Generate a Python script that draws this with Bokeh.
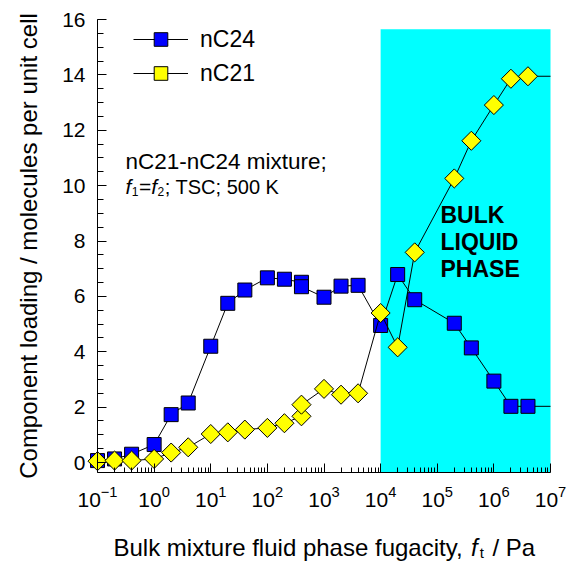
import numpy as np
from bokeh.plotting import figure
from bokeh.models import (Range1d, FixedTicker, SingleIntervalTicker, Label,
                          Legend, LegendItem)
from bokeh.embed import file_html
from bokeh.resources import INLINE

# Component loadings (molecules per unit cell) in the nC21-nC24 mixture
fug_c24 = [0.1, 0.2, 0.4, 1, 2, 4, 10, 20, 40, 100, 200, 400, 400, 1e3, 2e3, 4e3,
           1e4, 2e4, 4e4, 2e5, 4e5, 1e6, 2e6, 4e6]
load_c24 = [0.07, 0.13, 0.30, 0.65, 1.73, 2.15, 4.20, 5.75, 6.23, 6.67, 6.62, 6.51, 6.35,
            5.97, 6.37, 6.40, 4.95, 6.79, 5.88, 5.03, 4.14, 2.94, 2.03, 2.03]
fug_c21 = [0.1, 0.2, 0.4, 1, 2, 4, 10, 20, 40, 100, 200, 400, 400, 1e3, 2e3, 4e3,
           1e4, 2e4, 4e4, 2e5, 4e5, 1e6, 2e6, 4e6]
load_c21 = [0.05, 0.07, 0.07, 0.13, 0.36, 0.55, 1.03, 1.09, 1.19, 1.25, 1.42, 1.67, 2.09,
            2.66, 2.45, 2.50, 5.40, 4.16, 7.59, 10.26, 11.62, 12.91, 13.86, 13.95]

# Fugacity span of the bulk liquid phase
liquid_fug = [1e4, 1e7]
liquid_top = 15.65

# axis extents
x_min, x_max = 0.1, 1e7
y_min, y_max = -0.36, 16
x_decades = list(range(-1, 8))

FONT = "Liberation Sans"

# Arial / Liberation Sans advance widths (per 1000 em) for laying out mixed-style text
ADV = {' ': 278, '/': 278, ',': 278, ';': 278, '=': 584, '-': 333,
       'B': 667, 'C': 722, 'K': 667, 'P': 667, 'S': 667, 'T': 611,
       'a': 556, 'c': 500, 'd': 556, 'e': 556, 'f': 278, 'g': 556, 'h': 556,
       'i': 222, 'k': 500, 'l': 222, 'm': 833, 'n': 556, 'o': 556, 'p': 556,
       'r': 333, 's': 500, 't': 278, 'u': 556, 'x': 500, 'y': 500}
for d in "0123456789":
    ADV[d] = 556


def text_width(s, size):
    return sum(ADV.get(ch, 556) for ch in s) * size / 1000.0


# Canvas geometry: the axes box spans 97..550 px horizontally and 19..472 px vertically.
W, H = 571, 563
box_l, box_r, box_t, box_b = 97, 550, 19, 472
px_per_dec = (box_r - box_l) / (np.log10(x_max) - np.log10(x_min))
px_per_unit = (box_b - box_t) / (y_max - y_min)
view_x = (10 ** (np.log10(x_min) - box_l / px_per_dec),
          10 ** (np.log10(x_max) + (W - box_r) / px_per_dec))
view_y = (y_min - (H - box_b) / px_per_unit, y_max + box_t / px_per_unit)

p = figure(width=W, height=H, x_axis_type="log",
           x_range=Range1d(*view_x), y_range=Range1d(*view_y),
           output_backend="svg", toolbar_location=None, min_border=0)
p.outline_line_color = None
p.grid.visible = False
p.background_fill_color = "white"
p.border_fill_color = "white"

# bulk liquid region
p.quad(left=[liquid_fug[0]], right=[liquid_fug[1]], bottom=[y_min], top=[liquid_top],
       fill_color="#00FFFF", line_color=None)

# connecting lines run on to the right end of the axis
l24 = p.line(fug_c24 + [x_max], load_c24 + [load_c24[-1]], line_color="black", line_width=1)
m24 = p.scatter(fug_c24, load_c24, marker="square", size=14,
                fill_color="#0000FF", line_color="black", line_width=1)
l21 = p.line(fug_c21 + [x_max], load_c21 + [load_c21[-1]], line_color="black", line_width=1)
m21 = p.scatter(fug_c21, load_c21, marker="square", angle=np.pi / 4, size=13.5,
                fill_color="#FFFF00", line_color="black", line_width=1)

# axes, pinned to the axes box
xa = p.xaxis[0]
xa.fixed_location = y_min
xa.bounds = (x_min, x_max)
xa.ticker = FixedTicker(ticks=[10.0 ** k for k in x_decades],
                        minor_ticks=[m * 10.0 ** k for k in x_decades[:-1] for m in range(2, 10)])
ya = p.yaxis[0]
ya.fixed_location = x_min
ya.bounds = (y_min, y_max)
ya.ticker = SingleIntervalTicker(interval=2, num_minor_ticks=4)
for ax in (xa, ya):
    ax.axis_line_color = "black"
    ax.major_tick_line_color = "black"
    ax.minor_tick_line_color = "black"
    ax.major_tick_in = 9
    ax.major_tick_out = 0
    ax.minor_tick_out = 0
    ax.major_label_text_font = FONT
    ax.major_label_text_font_size = "21px"
    ax.major_label_text_color = "black"
xa.minor_tick_in = 5
ya.minor_tick_in = 6
xa.major_label_standoff = 13
ya.major_label_standoff = 12

ya.axis_label = "Component loading / molecules per unit cell"
ya.axis_label_text_font = FONT
ya.axis_label_text_font_size = "24px"
ya.axis_label_text_font_style = "normal"
ya.axis_label_text_color = "black"
ya.axis_label_standoff = 17


def add_runs(runs, x0, line_y):
    """Place a row of differently styled text pieces; x0 and line_y in canvas pixels."""
    x = x0
    for txt, size, style, drop, gap in runs:
        p.add_layout(Label(x=x, y=H - line_y - drop, x_units="screen", y_units="screen",
                           text=txt, text_font=FONT, text_font_size=f"{size}px",
                           text_font_style=style, text_color="black",
                           text_baseline="alphabetic", text_align="left", level="overlay"))
        x += text_width(txt, size) + gap


# x-axis title with italic f and subscript t
add_runs([("Bulk mixture fluid phase fugacity,", 24, "normal", 0, text_width(" ", 24)),
          ("f", 24, "italic", 0, 2),
          ("t", 15, "normal", 5, 2 + text_width(" ", 24)),
          ("/ Pa", 24, "normal", 0, 0)], 113, 547)

# conditions annotation
add_runs([("nC21-nC24 mixture;", 22.5, "normal", 0, 0)], 125, 161)
add_runs([("f", 21, "italic", 0, 0.5),
          ("1", 12, "normal", 5, 0.5),
          ("=", 21, "normal", 0, 0),
          ("f", 21, "italic", 0, 0.5),
          ("2", 12, "normal", 5, 0.5),
          ("; TSC; 500 K", 20, "normal", 0, 0)], 125, 186)

# region label
for txt, yb in (("BULK", 214), ("LIQUID", 241), ("PHASE", 268)):
    add_runs([(txt, 23, "bold", 0, 0)], 440, yb)

legend = Legend(items=[LegendItem(label="nC24", renderers=[l24, m24]),
                       LegendItem(label="nC21", renderers=[l21, m21])],
                location=(133, H - 90), orientation="vertical")
legend.border_line_color = None
legend.background_fill_alpha = 0
legend.glyph_width = 55
legend.glyph_height = 34
legend.label_height = 22
legend.label_standoff = 12
legend.spacing = -3
legend.padding = 0
legend.margin = 0
legend.label_text_font = FONT
legend.label_text_font_size = "23px"
legend.label_text_color = "black"
p.add_layout(legend)

open("out.html", "w").write(file_html(p, INLINE))
